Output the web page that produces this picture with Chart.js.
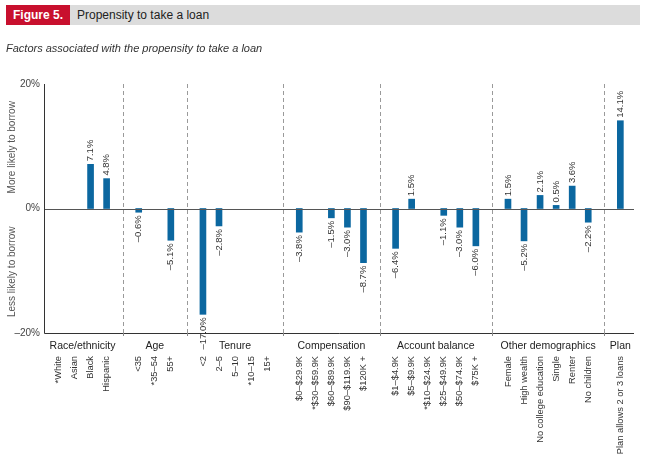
<!DOCTYPE html>
<html>
<head>
<meta charset="utf-8">
<script src="https://cdn.jsdelivr.net/npm/chart.js@4"></script>
<style>
  body { margin: 0; background: #fff; font-family: "Liberation Sans", Arial, sans-serif; }
  #wrap { position: relative; width: 646px; height: 460px; }
  #fig { position: absolute; left: 6px; top: 5px; width: 64px; height: 20px; background: #c8102e; color: #fff;
         font-weight: bold; font-size: 12px; line-height: 20px; text-align: center; }
  #band { position: absolute; left: 70px; top: 5px; width: 570px; height: 20px; background: #dcdcdc; color: #222;
          font-size: 12px; line-height: 20px; padding-left: 7px; box-sizing: border-box; }
  #sub { position: absolute; left: 6px; top: 42px; font-size: 11px; font-style: italic; color: #333; }
  canvas { position: absolute; left: 0; top: 0; }
</style>
</head>
<body>
<div id="wrap">
  <canvas id="loanChart" width="646" height="460"></canvas>
  <div id="fig">Figure 5.</div>
  <div id="band">Propensity to take a loan</div>
  <div id="sub">Factors associated with the propensity to take a loan</div>
</div>
<script>
// Data (null = reference group, no bar)
const raceLabels = ['*White', 'Asian', 'Black', 'Hispanic'];
const raceValues = [null, null, 7.1, 4.8];

const ageLabels = ['<35', '*35–54', '55+'];
const ageValues = [-0.6, null, -5.1];

const tenureLabels = ['<2', '2–5', '5–10', '*10–15', '15+'];
const tenureValues = [-17.0, -2.8, null, null, null];

const compLabels = ['$0–$29.9K', '*$30–$59.9K', '$60–$89.9K', '$90–$119.9K', '$120K +'];
const compValues = [-3.8, null, -1.5, -3.0, -8.7];

const balanceLabels = ['$1–$4.9K', '$5–$9.9K', '*$10–$24.9K', '$25–$49.9K', '$50–$74.9K', '$75K +'];
const balanceValues = [-6.4, 1.5, null, -1.1, -3.0, -6.0];

const otherLabels = ['Female', 'High wealth', 'No college education', 'Single', 'Renter', 'No children'];
const otherValues = [1.5, -5.2, 2.1, 0.5, 3.6, -2.2];

const planLabels = ['Plan allows 2 or 3 loans'];
const planValues = [14.1];

const groupNames = ['Race/ethnicity', 'Age', 'Tenure', 'Compensation', 'Account balance', 'Other demographics', 'Plan'];
const yTicks = [20, 0, -20];

// Flatten groups into slots, with an empty slot between groups for the dashed divider
const groupList = [
  [raceLabels, raceValues], [ageLabels, ageValues], [tenureLabels, tenureValues],
  [compLabels, compValues], [balanceLabels, balanceValues], [otherLabels, otherValues],
  [planLabels, planValues]
];
const slotLabels = [];
const points = [];
const dividers = [];
const groupCenters = [];
groupList.forEach(([labels, values], gi) => {
  if (gi > 0) { dividers.push(slotLabels.length); slotLabels.push(''); }
  const start = slotLabels.length;
  labels.forEach((lab, i) => {
    if (values[i] !== null) points.push({ x: slotLabels.length, y: values[i] });
    slotLabels.push(lab);
  });
  groupCenters.push((start + slotLabels.length - 1) / 2);
});

const fmt = v => (v < 0 ? '–' : '') + Math.abs(v).toFixed(1) + '%';
const FONT = '"Liberation Sans", Arial, sans-serif';

const drawPlugin = {
  id: 'drawPlugin',
  beforeDatasetsDraw(chart) {
    const { ctx, chartArea: a, scales: { x } } = chart;
    ctx.save();
    ctx.strokeStyle = '#9a9a9a';
    ctx.lineWidth = 1;
    ctx.setLineDash([4, 3]);
    dividers.forEach(d => {
      const px = Math.round(x.getPixelForValue(d)) + 0.5;
      ctx.beginPath();
      ctx.moveTo(px, a.top);
      ctx.lineTo(px, a.bottom);
      ctx.stroke();
    });
    ctx.restore();
  },
  afterDatasetsDraw(chart) {
    const { ctx, chartArea: a, scales: { x, y } } = chart;
    ctx.save();
    // zero line
    const zy = Math.round(y.getPixelForValue(0)) + 0.5;
    ctx.strokeStyle = '#555';
    ctx.lineWidth = 1;
    ctx.beginPath();
    ctx.moveTo(a.left, zy);
    ctx.lineTo(a.right, zy);
    ctx.stroke();
    // axis lines
    ctx.strokeStyle = '#333';
    ctx.beginPath();
    ctx.moveTo(a.left + 0.5, a.top);
    ctx.lineTo(a.left + 0.5, a.bottom + 0.5);
    ctx.lineTo(a.right, a.bottom + 0.5);
    ctx.stroke();
    // small ticks at dividers
    ctx.strokeStyle = '#888';
    dividers.forEach(d => {
      const px = Math.round(x.getPixelForValue(d)) + 0.5;
      ctx.beginPath();
      ctx.moveTo(px, a.bottom);
      ctx.lineTo(px, a.bottom + 3);
      ctx.stroke();
    });

    // value labels, rotated
    ctx.fillStyle = '#333';
    ctx.font = '9.5px ' + FONT;
    ctx.textBaseline = 'middle';
    points.forEach(p => {
      const px = x.getPixelForValue(p.x);
      const py = y.getPixelForValue(p.y);
      ctx.save();
      ctx.translate(px, py);
      ctx.rotate(-Math.PI / 2);
      if (p.y >= 0) { ctx.textAlign = 'left'; ctx.fillText(fmt(p.y), 3, 0); }
      else { ctx.textAlign = 'right'; ctx.fillText(fmt(p.y), -3, 0); }
      ctx.restore();
    });

    // y tick labels
    ctx.fillStyle = '#444';
    ctx.font = '10px ' + FONT;
    ctx.textAlign = 'right';
    yTicks.forEach(t => {
      ctx.fillText((t < 0 ? '–' : '') + Math.abs(t) + '%', a.left - 4, y.getPixelForValue(t));
    });

    // side labels
    ctx.fillStyle = '#555';
    ctx.textAlign = 'center';
    [['More likely to borrow', 10], ['Less likely to borrow', -10]].forEach(([txt, v]) => {
      ctx.save();
      ctx.translate(12, y.getPixelForValue(v) + 1);
      ctx.rotate(-Math.PI / 2);
      ctx.fillText(txt, 0, 0);
      ctx.restore();
    });

    // group names
    ctx.fillStyle = '#222';
    ctx.font = '10.5px ' + FONT;
    groupNames.forEach((g, i) => {
      ctx.fillText(g, x.getPixelForValue(groupCenters[i]), a.bottom + 13);
    });

    // category labels, rotated
    ctx.fillStyle = '#333';
    ctx.font = '9.3px ' + FONT;
    ctx.textAlign = 'right';
    slotLabels.forEach((lab, i) => {
      if (!lab) return;
      ctx.save();
      ctx.translate(x.getPixelForValue(i), a.bottom + 23);
      ctx.rotate(-Math.PI / 2);
      ctx.fillText(lab, 0, 0);
      ctx.restore();
    });
    ctx.restore();
  }
};

new Chart(document.getElementById('loanChart').getContext('2d'), {
  type: 'bar',
  data: {
    datasets: [{
      data: points,
      backgroundColor: '#0b67a0',
      barThickness: 6
    }]
  },
  options: {
    responsive: false,
    animation: false,
    layout: { padding: { left: 44, top: 84, right: 12, bottom: 127 } },
    plugins: { legend: { display: false }, tooltip: { enabled: false } },
    scales: {
      x: { type: 'linear', min: -0.9, max: 35.85, offset: false, display: false },
      y: { min: -20, max: 20, display: false }
    }
  },
  plugins: [drawPlugin]
});
</script>
</body>
</html>
